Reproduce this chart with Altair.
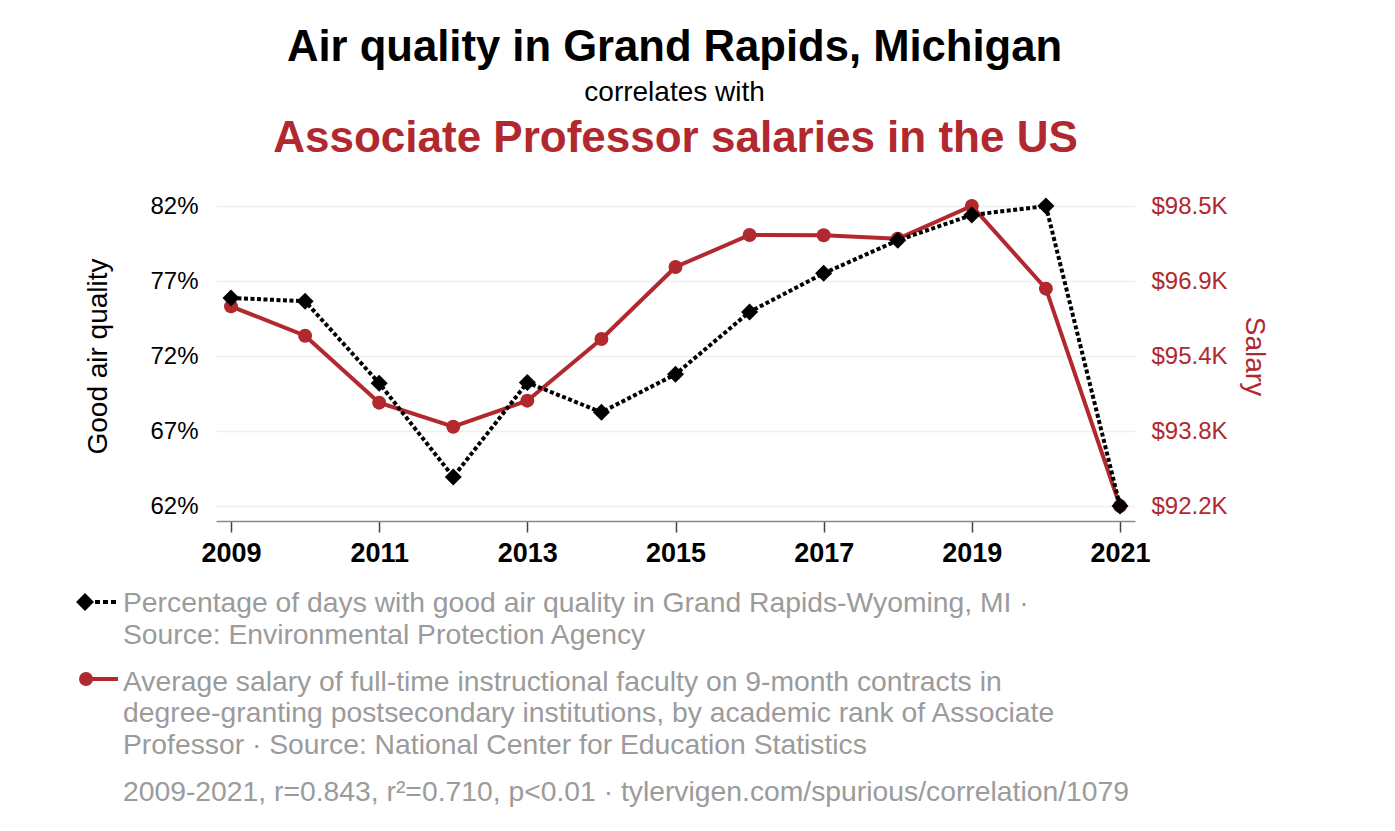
import altair as alt
import pandas as pd

# ---------------- data ----------------
years = [2009, 2010, 2011, 2012, 2013, 2014, 2015, 2016, 2017, 2018, 2019, 2020, 2021]
air_quality = [75.87, 75.65, 70.19, 63.94, 70.23, 68.25, 70.78, 74.94, 77.51, 79.71, 81.40, 82.00, 62.00]
salary = [96393, 95776, 94370, 93865, 94412, 95706, 97219, 97891, 97885, 97813, 98500, 96764, 92200]

air_ticks = [62, 67, 72, 77, 82]
salary_ticks = [92200, 93775, 95350, 96925, 98500]
year_ticks = [2009, 2011, 2013, 2015, 2017, 2019, 2021]

title_top = "Air quality in Grand Rapids, Michigan"
title_mid = "correlates with"
title_red = "Associate Professor salaries in the US"
axis_left_title = "Good air quality"
axis_right_title = "Salary"
legend_air = ["Percentage of days with good air quality in Grand Rapids-Wyoming, MI ·",
              "Source: Environmental Protection Agency"]
legend_salary = ["Average salary of full-time instructional faculty on 9-month contracts in",
                 "degree-granting postsecondary institutions, by academic rank of Associate",
                 "Professor · Source: National Center for Education Statistics"]
footer = "2009-2021, r=0.843, r²=0.710, p<0.01 · tylervigen.com/spurious/correlation/1079"

RED = "#b1282e"
GRAY = "#9b9b9b"
FONT = "Liberation Sans"

df = pd.DataFrame({"year": years, "air": air_quality, "salary": salary})
one = pd.DataFrame({"k": [0]})
base = alt.Chart(df)

x_enc = alt.X(
    "year:Q",
    scale=alt.Scale(domain=[2009, 2021], padding=15, nice=False, zero=False),
    axis=alt.Axis(values=year_ticks, format="d", title=None, grid=False,
                  labelFontSize=27, labelFontWeight="bold", labelColor="black", labelFont=FONT,
                  labelPadding=8, tickSize=11, tickColor="#444444", tickWidth=1.5,
                  domainColor="#888888", domainWidth=1.5, labelFlush=False, labelOverlap=False),
)

red_y = alt.Y(
    "salary:Q",
    scale=alt.Scale(domain=[92200, 98500], padding=15, nice=False, zero=False),
    axis=alt.Axis(orient="right", values=salary_ticks,
                  labelExpr="'$' + format(datum.value / 1000 + 0.0001, '.1f') + 'K'",
                  title=axis_right_title, titleColor=RED, titleFontSize=28, titleFontWeight="normal",
                  titleFont=FONT, labelFont=FONT, labelColor=RED, labelFontSize=24,
                  ticks=False, domain=False, grid=False, labelPadding=16, titlePadding=12,
                  labelFlush=False, labelOverlap=False),
)

air_y = alt.Y(
    "air:Q",
    scale=alt.Scale(domain=[62, 82], padding=15, nice=False, zero=False),
    axis=alt.Axis(orient="left", values=air_ticks, labelExpr="datum.value + '%'",
                  title=axis_left_title, titleColor="black", titleFontSize=28, titleFontWeight="normal",
                  titleFont=FONT, labelFont=FONT, labelColor="black", labelFontSize=24,
                  ticks=False, domain=False, grid=True, gridColor="#efefef", gridWidth=1.5,
                  labelPadding=18, titlePadding=37, labelFlush=False, labelOverlap=False),
)

red_line = base.mark_line(color=RED, strokeWidth=4).encode(x=x_enc, y=red_y)
red_pts = base.mark_circle(color=RED, size=195, opacity=1).encode(x=x_enc, y=red_y)
black_line = base.mark_line(color="black", strokeWidth=4, strokeDash=[4, 2.5]).encode(x=x_enc, y=air_y)
black_pts = base.mark_point(shape="diamond", filled=True, color="black", size=290, opacity=1).encode(x=x_enc, y=air_y)

red = alt.layer(red_line, red_pts)
black = alt.layer(black_line, black_pts)

# legend (drawn as annotation marks below the plot)
leg_air_sym = alt.Chart(one).mark_point(shape="diamond", filled=True, color="black", size=320, opacity=1).encode(
    x=alt.value(-131), y=alt.value(411))
leg_air_dash = alt.Chart(one).mark_rule(color="black", strokeWidth=4, strokeDash=[5, 3]).encode(
    x=alt.value(-121), x2=alt.value(-98), y=alt.value(411))
leg_air_text = alt.Chart(one).mark_text(align="left", baseline="alphabetic", fontSize=28.3, lineHeight=31.5,
                                        color=GRAY, font=FONT).encode(
    x=alt.value(-93), y=alt.value(421), text=alt.value(legend_air))
leg_sal_sym = alt.Chart(one).mark_circle(color=RED, size=195, opacity=1).encode(
    x=alt.value(-130), y=alt.value(488))
leg_sal_line = alt.Chart(one).mark_rule(color=RED, strokeWidth=4).encode(
    x=alt.value(-124), x2=alt.value(-98), y=alt.value(488))
leg_sal_text = alt.Chart(one).mark_text(align="left", baseline="alphabetic", fontSize=28.3, lineHeight=31.8,
                                        color=GRAY, font=FONT).encode(
    x=alt.value(-93), y=alt.value(499.7), text=alt.value(legend_salary))
foot_text = alt.Chart(one).mark_text(align="left", baseline="alphabetic", fontSize=28.3,
                                     color=GRAY, font=FONT).encode(
    x=alt.value(-93), y=alt.value(610), text=alt.value(footer))

main = alt.layer(
    red, black,
    leg_air_dash, leg_air_sym, leg_air_text,
    leg_sal_line, leg_sal_sym, leg_sal_text, foot_text,
).resolve_scale(y="independent").properties(
    width=919, height=330,
    title=alt.TitleParams(title_red, color=RED, fontSize=44, fontWeight="bold", font=FONT,
                          anchor="middle", offset=30),
)

chart = alt.vconcat(
    main,
    title=alt.TitleParams(title_top, subtitle=title_mid, color="black", fontSize=43.6, fontWeight="bold",
                          font=FONT, subtitleFont=FONT, subtitleFontSize=28, subtitleColor="black",
                          subtitlePadding=8, anchor="middle", offset=9, dx=3),
    padding={"left": 68, "top": 18, "right": 10, "bottom": 10},
).configure(font=FONT).configure_view(stroke="transparent", strokeWidth=0)

chart.save("out.html", embed_options={"renderer": "svg", "actions": False})
